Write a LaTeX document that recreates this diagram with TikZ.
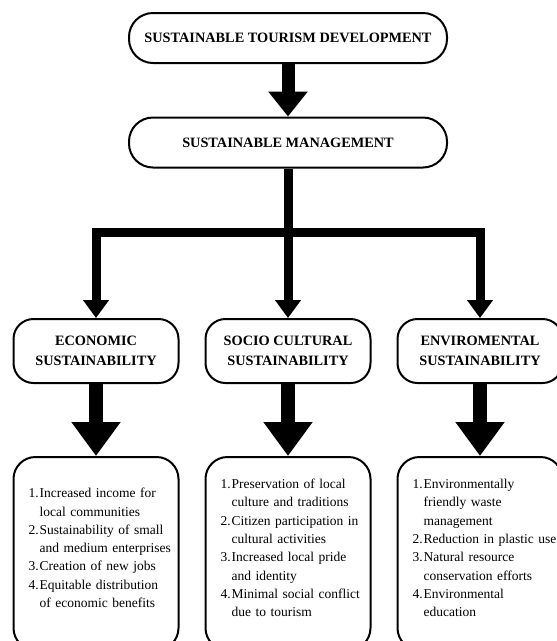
\documentclass[tikz,border=0pt]{standalone}
\usepackage{fontspec}
\setmainfont{Liberation Serif}
\usetikzlibrary{arrows.meta}

\begin{document}
\begin{tikzpicture}[x=1pt,y=1pt,yscale=-1,xscale=1,
  pill/.style={draw,line width=2pt,rounded corners=24pt,minimum width=318pt,minimum height=50pt,inner sep=0pt,font=\fontsize{14.3}{20}\selectfont\bfseries},
  headbox/.style={draw,line width=2pt,rounded corners=20pt,minimum width=165pt,minimum height=64pt,inner sep=0pt,align=center,font=\fontsize{14.3}{20}\selectfont\bfseries},
  listbox/.style={draw,line width=2pt,rounded corners=22pt,minimum width=165pt,minimum height=193pt,inner xsep=15pt,text width=135pt,align=left,font=\fontsize{13.5}{18.3}\selectfont},
  toparrow/.style={line width=13pt,-{Triangle[width=38pt,length=25pt]}},
  branch/.style={line width=9pt,line join=miter,-{Triangle[width=25pt,length=18pt]}},
  midarrow/.style={line width=14pt,-{Triangle[width=47pt,length=34pt]}}
]
\useasboundingbox (0,0) rectangle (557,641);
\clip (0,0) rectangle (557,641);

%Shape: Rounded Rectangle
\node[pill] (std) at (288,38) {SUSTAINABLE TOURISM DEVELOPMENT};
%Shape: Rounded Rectangle
\node[pill] (sm) at (288,142.5) {SUSTAINABLE MANAGEMENT};

%Shape: Rounded Rectangle
\node[headbox] (eco) at (96,351) {ECONOMIC\\SUSTAINABILITY};
%Shape: Rounded Rectangle
\node[headbox] (soc) at (288,351) {SOCIO CULTURAL\\SUSTAINABILITY};
%Shape: Rounded Rectangle
\node[headbox] (env) at (480,351) {ENVIROMENTAL\\SUSTAINABILITY};

% Text Node
\node[listbox] (ecolist) at (96,553.5) {\begin{tabular}{@{}r@{\kern1pt}l@{}}
1. & Increased income for\\
   & local communities\\
2. & Sustainability of small\\
   & and medium enterprises\\
3. & Creation of new jobs\\
4. & Equitable distribution\\
   & of economic benefits\\[9pt]
\end{tabular}};
% Text Node
\node[listbox] (soclist) at (288,553.5) {\begin{tabular}{@{}r@{\kern1pt}l@{}}
1. & Preservation of local\\
   & culture and traditions\\
2. & Citizen participation in\\
   & cultural activities\\
3. & Increased local pride\\
   & and identity\\
4. & Minimal social conflict\\
   & due to tourism\\[9pt]
\end{tabular}};
% Text Node
\node[listbox] (envlist) at (480,553.5) {\begin{tabular}{@{}r@{\kern1pt}l@{}}
1. & Environmentally\\
   & friendly waste\\
   & management\\
2. & Reduction in plastic use\\
3. & Natural resource\\
   & conservation efforts\\
4. & Environmental\\
   & education\\[9pt]
\end{tabular}};

%Straight Lines
\draw[toparrow] (std) -- (sm);
\coordinate (bar) at (288,232);
\draw[branch] (sm.south) -- (sm.south |- bar) -| (eco.north);
\draw[branch] (sm.south) -- (soc.north);
\draw[branch] (sm.south) -- (sm.south |- bar) -| (env.north);
\draw[midarrow] (eco) -- (ecolist);
\draw[midarrow] (soc) -- (soclist);
\draw[midarrow] (env) -- (envlist);

\end{tikzpicture}
\end{document}
